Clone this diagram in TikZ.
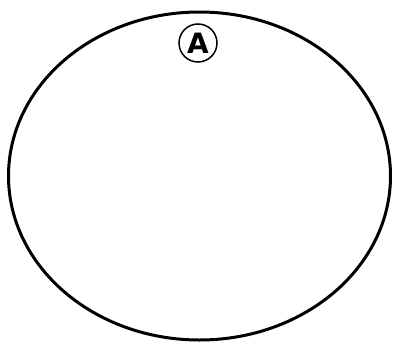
\documentclass[tikz,border=0pt]{standalone}
\usepackage{fontspec}
\usepackage{tikz}
\newfontfamily\tagfont{DejaVu Sans}

\begin{document}
\begin{tikzpicture}[x=1pt,y=-1pt,
  rim/.style={draw=black,line width=3pt},
  tag/.style={circle,draw=black,line width=1.5pt,minimum size=38pt,inner sep=0pt,
              font=\tagfont\bfseries\fontsize{28}{28}\selectfont}
]
\useasboundingbox (0,0) rectangle (393,343);
\draw[rim] (199.5,176) ellipse [x radius=191,y radius=164];
\node[tag] (a) at (198,43) {A};
\end{tikzpicture}
\end{document}
